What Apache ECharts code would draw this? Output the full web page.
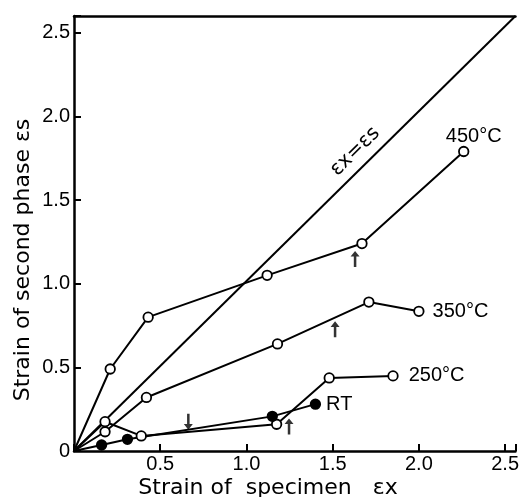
<!DOCTYPE html>
<html><head><meta charset="utf-8">
<script src="https://cdn.jsdelivr.net/npm/echarts@6/dist/echarts.min.js"></script>
<style>html,body{margin:0;padding:0;background:#fff}#c{width:522px;height:497px}</style>
</head><body><div id="c"></div>
<script>
// Data (x = strain of specimen εx, y = strain of second phase εs)
const s450 = [[0,0],[0.21,0.49],[0.43,0.80],[1.12,1.05],[1.67,1.24],[2.26,1.79]];
const s350 = [[0,0],[0.18,0.115],[0.42,0.32],[1.18,0.64],[1.71,0.89],[2.0,0.835]];
const s250 = [[0,0],[0.18,0.175],[0.39,0.09],[1.175,0.16],[1.48,0.437],[1.85,0.449]];
const sRT  = [[0,0],[0.16,0.036],[0.31,0.07],[1.15,0.207],[1.40,0.28]];
const equalLine = [[0,0],[2.56,2.6]];
const arrowsUp = [[1.63,1.148],[1.514,0.727],[1.247,0.147]];
const arrowsDown = [[0.663,0.175]];
const equalLabelPos = [1.63,1.79];
const seriesNames = ['450°C','350°C','250°C','RT'];
const xTicks = ['0.5','1.0','1.5','2.0','2.5'];
const yTicks = ['0','0.5','1.0','1.5','2.0','2.5'];

const F = 'Liberation Sans';
const chart = echarts.init(document.getElementById('c'), null, {renderer:'canvas'});
const lineStyle = {color:'#000', width:2};
function ser(name, data, filled, label){
  const d = data.map((p,i)=> (p[0]===0 && p[1]===0) ? {value:p, symbol:'none'} : {value:p});
  return {name, type:'line', data:d, symbol:'circle', symbolSize:9.5, showSymbol:true,
    lineStyle, itemStyle:{color: filled ? '#000' : '#fff', borderColor:'#000', borderWidth:1.8},
    label:{show:true, formatter:(p)=> p.dataIndex===data.length-1 ? name : '', ...label,
      fontFamily:F, fontSize:20, color:'#000'},
    animation:false, z:3};
}
const arrowPath = 'path://M5,0 L0,7 L3.6,7 L3.6,20 L6.4,20 L6.4,7 L10,7 Z';
chart.setOption({
  animation:false,
  grid:{left:74, right:0, top:16, bottom:46},
  xAxis:[{type:'value', min:0, max:2.56, interval:0.5,
    axisLine:{lineStyle:{color:'#000', width:2.5}},
    axisTick:{inside:true, length:7, lineStyle:{color:'#000', width:2}},
    axisLabel:{margin:3, fontFamily:F, fontSize:20, color:'#000',
      formatter:v=>{const i=xTicks.indexOf(v.toFixed(1)); return (Math.abs(v*2-Math.round(v*2))<1e-6 && i>=0)? xTicks[i] : '';}},
    splitLine:{show:false}},
   {type:'value', position:'top', min:0, max:2.56,
    axisLine:{show:true, lineStyle:{color:'#000', width:2.5}},
    axisTick:{show:false}, axisLabel:{show:false}, splitLine:{show:false}}],
  yAxis:{type:'value', min:0, max:2.6, interval:0.5,
    axisLine:{lineStyle:{color:'#000', width:2.5}},
    axisTick:{inside:true, length:7, lineStyle:{color:'#000', width:2}},
    axisLabel:{margin:4, fontFamily:F, fontSize:20, color:'#000',
      formatter:v=>{const t = v===0 ? '0' : v.toFixed(1); return (Math.abs(v*2-Math.round(v*2))<1e-6 && yTicks.indexOf(t)>=0) ? t : '';}},
    splitLine:{show:false}},
  series:[
    {type:'line', data:equalLine, symbol:'none', lineStyle, animation:false, z:2},
    ser(seriesNames[0], s450, false, {position:'top', offset:[10,6]}),
    ser(seriesNames[1], s350, false, {position:'right', distance:8}),
    ser(seriesNames[2], s250, false, {position:'right', distance:10}),
    ser(seriesNames[3], sRT, true, {position:'right', distance:5}),
    {type:'scatter', data:arrowsUp, symbol:arrowPath, symbolSize:[9,16], itemStyle:{color:'#000'}, z:4},
    {type:'scatter', data:arrowsDown, symbol:arrowPath, symbolRotate:180, symbolSize:[9,16], itemStyle:{color:'#000'}, z:4}
  ]
});
const lp = chart.convertToPixel({gridIndex:0}, equalLabelPos);
const a0 = chart.convertToPixel({gridIndex:0}, equalLine[0]);
const a1 = chart.convertToPixel({gridIndex:0}, equalLine[1]);
const ang = Math.atan2(a0[1]-a1[1], a1[0]-a0[0]);
chart.setOption({graphic:[
  {type:'text', x:268, y:488, style:{text:'Strain of  specimen   εx', font:'22px "DejaVu Sans"', fill:'#000', textAlign:'center', textVerticalAlign:'middle'}},
  {type:'text', rotation:Math.PI/2, x:23, y:260, style:{text:'Strain of second phase εs', font:'22px "DejaVu Sans"', fill:'#000', textAlign:'center', textVerticalAlign:'middle'}},
  {type:'text', rotation:ang, x:lp[0], y:lp[1], style:{text:'εx=εs', font:'20px "DejaVu Sans"', fill:'#000', textAlign:'center', textVerticalAlign:'middle'}}
]});
</script></body></html>
